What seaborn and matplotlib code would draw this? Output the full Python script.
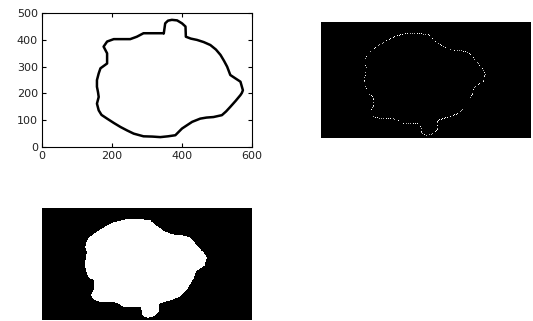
#!/usr/bin/env python3
"""
Contour trace, sparse edge image and filled mask (seaborn)
"""

import matplotlib
matplotlib.use('Agg')
import matplotlib.pyplot as plt
import numpy as np
import pandas as pd
import seaborn as sns
from matplotlib.path import Path

# Contour (closed loop, clockwise from the bump)
contour_x = [348, 352, 360, 371, 386, 400, 410, 411, 425, 443, 462, 481, 497,
             510, 520, 529, 538, 553, 567, 574, 571, 567, 553, 538, 526, 514,
             490, 470, 452, 429, 415, 400, 381, 360, 338, 315, 290, 262, 243,
             224, 205, 186, 170, 162, 157, 162, 160, 157, 157, 162, 167, 186,
             186, 180, 176, 186, 205, 230, 252, 271, 290, 319, 348]
contour_y = [425, 462, 472, 475, 473, 462, 450, 412, 405, 400, 392, 381, 364,
             344, 322, 300, 269, 256, 244, 212, 202, 194, 172, 150, 133, 119,
             112, 110, 106, 94, 82, 69, 44, 40, 37, 39, 40, 50, 62, 75,
             90, 106, 120, 137, 162, 187, 205, 225, 250, 275, 294, 312,
             350, 365, 375, 394, 403, 403, 403, 412, 425, 425, 425]

x_ticks = [0, 200, 400, 600]
y_ticks = [0, 100, 200, 300, 400, 500]

# image frames: data range covered by the columns / rows of the pictures
img_cols, img_rows = 210, 116
img_x_range = (10, 728)
img_y_range = (-7, 483)


def build_images():
    xs = np.linspace(*img_x_range, img_cols)
    ys = np.linspace(*img_y_range, img_rows)
    gx, gy = np.meshgrid(xs, ys)
    poly = Path(np.column_stack([contour_x, contour_y]))
    mask = poly.contains_points(np.column_stack([gx.ravel(), gy.ravel()]))
    mask = mask.reshape(img_rows, img_cols)

    # boundary = mask minus its 4-neighbour erosion
    inner = mask.copy()
    inner[1:, :] &= mask[:-1, :]
    inner[:-1, :] &= mask[1:, :]
    inner[:, 1:] &= mask[:, :-1]
    inner[:, :-1] &= mask[:, 1:]
    edge = mask & ~inner

    # only a sparse share of edge pixels survives, as in the reference
    rr, cc = np.indices(edge.shape)
    keep = ((rr * 2 + cc * 3) % 7) < 3
    sparse = np.where(edge & keep, 0.7 + 0.3 * ((rr + cc) % 2), 0.0)
    return mask.astype(float), sparse


def main():
    sns.set_theme(style='white')
    plt.rcParams['font.family'] = ['DejaVu Sans']

    fig = plt.figure(figsize=(5.33, 3.21), dpi=100)
    ax_line = fig.add_axes([0.0788, 0.542, 0.394, 0.417])
    ax_edge = fig.add_axes([0.602, 0.570, 0.394, 0.361])
    ax_fill = fig.add_axes([0.0788, 0.003, 0.394, 0.349])

    # contour trace
    df = pd.DataFrame({'x': contour_x, 'y': contour_y})
    sns.lineplot(data=df, x='x', y='y', sort=False, estimator=None,
                 color='black', linewidth=1.8, ax=ax_line)
    ax_line.set_xlim(0, 600)
    ax_line.set_ylim(0, 500)
    ax_line.set_xticks(x_ticks)
    ax_line.set_yticks(y_ticks)
    ax_line.set_xlabel('')
    ax_line.set_ylabel('')
    ax_line.tick_params(direction='in', length=3, width=0.8,
                        top=True, right=True, bottom=True, left=True,
                        labelsize=8, labelcolor='#222222', colors='black',
                        pad=3)
    for sp in ax_line.spines.values():
        sp.set_visible(True)
        sp.set_color('black')
        sp.set_linewidth(0.8)

    mask, sparse = build_images()

    sns.heatmap(sparse, cmap='gray', vmin=0, vmax=1, cbar=False,
                xticklabels=False, yticklabels=False, ax=ax_edge,
                rasterized=True)
    sns.heatmap(mask, cmap='gray', vmin=0, vmax=1, cbar=False,
                xticklabels=False, yticklabels=False, ax=ax_fill,
                rasterized=True)
    for ax in (ax_edge, ax_fill):
        ax.tick_params(length=0)

    fig.savefig('out.png', dpi=100, facecolor='white')


if __name__ == '__main__':
    main()
